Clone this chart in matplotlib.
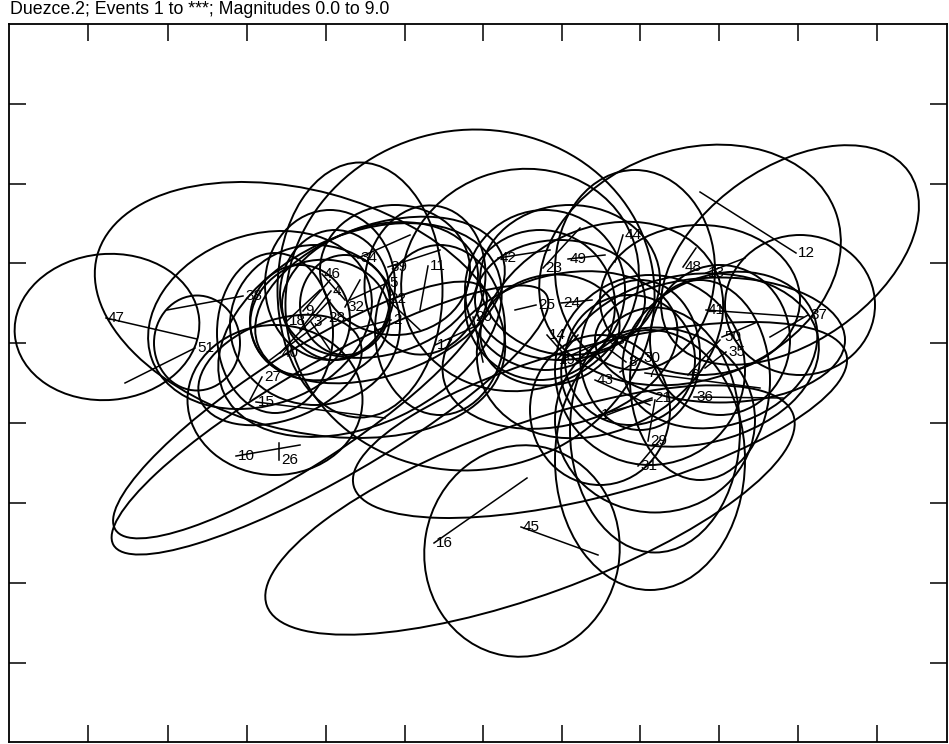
import numpy as np
import matplotlib
matplotlib.use("Agg")
import matplotlib.pyplot as plt
from matplotlib.patches import Ellipse

plt.rcParams['font.family'] = ['Liberation Sans', 'DejaVu Sans']

# map frame in plot units (x to the right, y downwards)
x_lim = (9, 947)
y_lim = (742, 24)
x_ticks = [88, 168, 247, 326, 405, 483, 562, 640, 719, 798, 877]
y_ticks = [104, 184, 263, 343, 423, 503, 583, 663]

# events: label, epicentre, error ellipse (centre, width, height, angle), line end
labels = ['47', '51', '38', '40', '15', '10', '26', '9', '34', '39', '11', '5', '22', '2',
          '46', '4', '18', '3', '28', '32', '27', '17',
          '20', '42', '23', '49', '44', '25', '24', '14', '19', '33', '43', '8', '30', '7',
          '21', '1', '29', '31', '45', '16',
          '48', '13', '41', '50', '35', '36', '12', '37', '6']
ev_x = [106, 195, 243, 280, 256, 236, 279, 303, 358, 388, 428, 387, 387, 391,
        322, 331, 287, 311, 326, 345, 262, 435,
        473, 498, 543, 568, 623, 536, 561, 547, 557, 606, 595, 626, 641, 645,
        652, 599, 648, 638, 521, 434,
        683, 706, 706, 722, 726, 694, 796, 808, 688]
ev_y = [318, 348, 296, 353, 402, 456, 460, 311, 258, 267, 266, 283, 299, 320,
        274, 291, 321, 322, 318, 307, 377, 345,
        317, 258, 268, 259, 235, 305, 303, 335, 360, 340, 380, 362, 358, 373,
        398, 415, 441, 466, 527, 543,
        267, 273, 310, 337, 352, 397, 253, 315, 375]
el_x = [107, 197, 260, 275, 275, 330, 300, 300, 360, 395, 425, 380, 380, 360,
        330, 335, 300, 315, 320, 345, 280, 440,
        470, 520, 545, 570, 635, 540, 560, 550, 560, 600, 600, 630, 640, 650,
        655, 600, 655, 650, 522, 530,
        690, 700, 720, 720, 720, 700, 790, 800, 690]
el_y = [327, 343, 320, 333, 400, 420, 410, 310, 290, 270, 280, 290, 300, 330,
        285, 295, 320, 325, 320, 305, 370, 330,
        300, 280, 290, 280, 270, 305, 300, 330, 350, 330, 420, 360, 355, 370,
        420, 410, 430, 460, 551, 510,
        265, 300, 340, 340, 350, 380, 255, 305, 360]
el_w = [185, 86, 230, 116, 175, 500, 440, 420, 165, 150, 120, 200, 260, 300,
        130, 110, 100, 170, 140, 90, 170, 130,
        370, 240, 160, 180, 160, 150, 170, 140, 240, 260, 510, 130, 120, 190,
        200, 140, 170, 190, 195, 560,
        310, 200, 250, 140, 200, 140, 290, 150, 260]
el_h = [146, 95, 170, 160, 150, 115, 110, 240, 255, 130, 150, 130, 150, 190,
        150, 130, 110, 160, 120, 100, 100, 170,
        340, 220, 160, 150, 200, 150, 120, 110, 150, 200, 150, 130, 150, 190,
        185, 150, 245, 260, 212, 170,
        230, 150, 125, 150, 150, 200, 175, 140, 170]
el_ang = [-5, 0, -20, 0, 0, -30, -33, 15, 0, 0, 10, -15, -20, -25,
          0, 0, 0, 0, -10, 0, -20, 0,
          -10, -20, 0, 0, 0, 0, 0, -10, -15, -30, -15, 0, 0, 0,
          0, 0, 0, 0, 10, -20,
          -20, 0, 0, 0, -20, 0, -35, 0, -10]
ln_x = [197, 125, 167, 330, 385, 300, 279, 330, 410, 440, 420, 350, 420, 350,
        345, 300, 320, 330, 270, 360, 250, 480,
        483, 550, 580, 605, 615, 515, 592, 562, 578, 560, 650, 610, 620, 760,
        607, 652, 655, 660, 598, 527,
        696, 745, 803, 755, 705, 783, 700, 770, 720]
ln_y = [339, 383, 310, 300, 418, 445, 443, 280, 235, 250, 310, 300, 330, 330,
        300, 330, 290, 350, 360, 280, 400, 324,
        362, 250, 228, 255, 262, 310, 300, 352, 335, 360, 405, 350, 372, 388,
        415, 400, 400, 440, 555, 478,
        248, 258, 317, 323, 368, 398, 192, 337, 340]

title = "Duezce.2; Events 1 to ***; Magnitudes 0.0 to 9.0"

fig = plt.figure(figsize=(9.49, 7.44), dpi=100)
ax = fig.add_axes([9 / 949, 2 / 744, 938 / 949, 718 / 744])

for i in range(len(labels)):
    e = Ellipse((el_x[i], el_y[i]), el_w[i], el_h[i], angle=el_ang[i],
                fill=False, ec='black', lw=1.4)
    ax.add_patch(e)
    ax.plot([ev_x[i], ln_x[i]], [ev_y[i], ln_y[i]], color='black', lw=1.1)
    ax.text(ev_x[i] + 2, ev_y[i], labels[i], ha='left', va='center',
            fontsize=11, color='black')

ax.set_xlim(*x_lim)
ax.set_ylim(*y_lim)
ax.set_xticks(x_ticks)
ax.set_yticks(y_ticks)
ax.tick_params(direction='in', length=12, width=1.1, top=True, right=True,
               labelbottom=False, labelleft=False)
for s in ax.spines.values():
    s.set_linewidth(1.3)

fig.text(10 / 949, 1 - 10 / 744, title, ha='left', va='center', fontsize=12.8)

fig.savefig('out.png', dpi=100)
